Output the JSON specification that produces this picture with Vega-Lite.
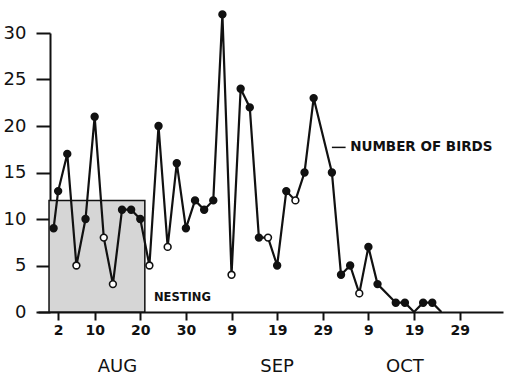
{
  "$schema": "https://vega.github.io/schema/vega-lite/v6.json",
  "width": 465,
  "height": 279,
  "autosize": {"type": "none"},
  "padding": {"left": 38, "top": 33, "right": 3, "bottom": 63},
  "background": "white",
  "config": {
    "view": {"stroke": null},
    "font": "DejaVu Sans",
    "axis": {"grid": false, "domainColor": "#111", "tickColor": "#111", "labelColor": "#111", "title": null}
  },
  "datasets": {
    "counts": [
      {"date": "2001-08-01", "birds": 9, "symbol": "solid"},
      {"date": "2001-08-02", "birds": 13, "symbol": "solid"},
      {"date": "2001-08-04", "birds": 17, "symbol": "solid"},
      {"date": "2001-08-06", "birds": 5, "symbol": "open"},
      {"date": "2001-08-08", "birds": 10, "symbol": "solid"},
      {"date": "2001-08-10", "birds": 21, "symbol": "solid"},
      {"date": "2001-08-12", "birds": 8, "symbol": "open"},
      {"date": "2001-08-14", "birds": 3, "symbol": "open"},
      {"date": "2001-08-16", "birds": 11, "symbol": "solid"},
      {"date": "2001-08-18", "birds": 11, "symbol": "solid"},
      {"date": "2001-08-20", "birds": 10, "symbol": "solid"},
      {"date": "2001-08-22", "birds": 5, "symbol": "open"},
      {"date": "2001-08-24", "birds": 20, "symbol": "solid"},
      {"date": "2001-08-26", "birds": 7, "symbol": "open"},
      {"date": "2001-08-28", "birds": 16, "symbol": "solid"},
      {"date": "2001-08-30", "birds": 9, "symbol": "solid"},
      {"date": "2001-09-01", "birds": 12, "symbol": "solid"},
      {"date": "2001-09-03", "birds": 11, "symbol": "solid"},
      {"date": "2001-09-05", "birds": 12, "symbol": "solid"},
      {"date": "2001-09-07", "birds": 32, "symbol": "solid"},
      {"date": "2001-09-09", "birds": 4, "symbol": "open"},
      {"date": "2001-09-11", "birds": 24, "symbol": "solid"},
      {"date": "2001-09-13", "birds": 22, "symbol": "solid"},
      {"date": "2001-09-15", "birds": 8, "symbol": "solid"},
      {"date": "2001-09-17", "birds": 8, "symbol": "open"},
      {"date": "2001-09-19", "birds": 5, "symbol": "solid"},
      {"date": "2001-09-21", "birds": 13, "symbol": "solid"},
      {"date": "2001-09-23", "birds": 12, "symbol": "open"},
      {"date": "2001-09-25", "birds": 15, "symbol": "solid"},
      {"date": "2001-09-27", "birds": 23, "symbol": "solid"},
      {"date": "2001-10-01", "birds": 15, "symbol": "solid"},
      {"date": "2001-10-03", "birds": 4, "symbol": "solid"},
      {"date": "2001-10-05", "birds": 5, "symbol": "solid"},
      {"date": "2001-10-07", "birds": 2, "symbol": "open"},
      {"date": "2001-10-09", "birds": 7, "symbol": "solid"},
      {"date": "2001-10-11", "birds": 3, "symbol": "solid"},
      {"date": "2001-10-15", "birds": 1, "symbol": "solid"},
      {"date": "2001-10-17", "birds": 1, "symbol": "solid"},
      {"date": "2001-10-19", "birds": 0, "symbol": "none"},
      {"date": "2001-10-21", "birds": 1, "symbol": "solid"},
      {"date": "2001-10-23", "birds": 1, "symbol": "solid"},
      {"date": "2001-10-25", "birds": 0, "symbol": "none"}
    ],
    "nesting": [
      {"start": "2001-07-31", "end": "2001-08-21", "top": 12, "label": "NESTING", "labelDate": "2001-08-23", "labelY": 1.5}
    ],
    "series": [
      {"start": "2001-10-01", "end": "2001-10-04", "labelDate": "2001-10-05", "y": 17.7, "label": "NUMBER OF BIRDS"}
    ],
    "months": [
      {"date": "2001-08-15", "month": "AUG", "y": -6.5},
      {"date": "2001-09-19", "month": "SEP", "y": -6.5},
      {"date": "2001-10-17", "month": "OCT", "y": -6.5}
    ]
  },
  "layer": [
    {
      "data": {"name": "nesting"},
      "mark": {"type": "rect", "fill": "#d6d6d6", "stroke": "#111", "strokeWidth": 1.5},
      "encoding": {
        "x": {
          "field": "start", "type": "temporal",
          "scale": {"type": "utc", "domain": [
            {"year": 2001, "month": "Jul", "date": 28, "hours": 14, "utc": true},
            {"year": 2001, "month": "Nov", "date": 7, "hours": 12, "utc": true}
          ]},
          "axis": {
            "values": [
              {"year": 2001, "month": "Aug", "date": 2, "utc": true},
              {"year": 2001, "month": "Aug", "date": 10, "utc": true},
              {"year": 2001, "month": "Aug", "date": 20, "utc": true},
              {"year": 2001, "month": "Aug", "date": 30, "utc": true},
              {"year": 2001, "month": "Sep", "date": 9, "utc": true},
              {"year": 2001, "month": "Sep", "date": 19, "utc": true},
              {"year": 2001, "month": "Sep", "date": 29, "utc": true},
              {"year": 2001, "month": "Oct", "date": 9, "utc": true},
              {"year": 2001, "month": "Oct", "date": 19, "utc": true},
              {"year": 2001, "month": "Oct", "date": 29, "utc": true}
            ],
            "labelExpr": "utcFormat(datum.value, '%-d')",
            "domainWidth": 2, "tickWidth": 2, "tickSize": 8,
            "labelFontSize": 14, "labelFontWeight": "bold", "labelPadding": 3,
            "labelFlush": false, "labelOverlap": false
          }
        },
        "x2": {"field": "end"},
        "y": {
          "field": "top", "type": "quantitative",
          "scale": {"domain": [0, 30], "nice": false, "zero": true},
          "axis": {
            "values": [0, 5, 10, 15, 20, 25, 30],
            "offset": -12,
            "domainWidth": 2, "tickWidth": 2, "tickSize": 14,
            "labelFontSize": 18, "labelPadding": 10
          }
        },
        "y2": {"datum": 0}
      }
    },
    {
      "data": {"name": "counts"},
      "mark": {"type": "line", "color": "#111", "strokeWidth": 2.2},
      "encoding": {
        "x": {"field": "date", "type": "temporal"},
        "y": {"field": "birds", "type": "quantitative"}
      }
    },
    {
      "data": {"name": "counts"},
      "transform": [{"filter": "datum.symbol !== 'none'"}],
      "mark": {"type": "point", "filled": true, "shape": "circle", "size": 46, "stroke": "#111", "strokeWidth": 1.6, "opacity": 1},
      "encoding": {
        "x": {"field": "date", "type": "temporal"},
        "y": {"field": "birds", "type": "quantitative"},
        "fill": {
          "field": "symbol", "type": "nominal",
          "scale": {"domain": ["solid", "open"], "range": ["#111", "white"]},
          "legend": null
        }
      }
    },
    {
      "data": {"name": "nesting"},
      "mark": {"type": "text", "align": "left", "baseline": "middle", "fontSize": 11.5, "fontWeight": "bold", "color": "#111"},
      "encoding": {
        "x": {"field": "labelDate", "type": "temporal"},
        "y": {"field": "labelY", "type": "quantitative"},
        "text": {"field": "label"}
      }
    },
    {
      "data": {"name": "series"},
      "mark": {"type": "rule", "color": "#111", "strokeWidth": 1.5},
      "encoding": {
        "x": {"field": "start", "type": "temporal"},
        "x2": {"field": "end"},
        "y": {"field": "y", "type": "quantitative"}
      }
    },
    {
      "data": {"name": "series"},
      "mark": {"type": "text", "align": "left", "baseline": "middle", "fontSize": 13.5, "fontWeight": "bold", "color": "#111"},
      "encoding": {
        "x": {"field": "labelDate", "type": "temporal"},
        "y": {"field": "y", "type": "quantitative"},
        "text": {"field": "label"}
      }
    },
    {
      "data": {"name": "months"},
      "mark": {"type": "text", "align": "center", "baseline": "alphabetic", "fontSize": 18, "color": "#111"},
      "encoding": {
        "x": {"field": "date", "type": "temporal"},
        "y": {"field": "y", "type": "quantitative"},
        "text": {"field": "month"}
      }
    }
  ]
}
